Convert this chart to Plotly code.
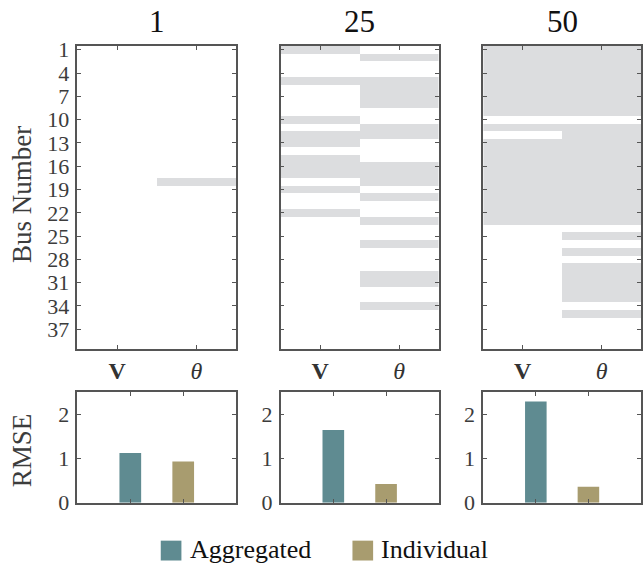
import plotly.graph_objects as go

# ---------------- data ----------------
panel_titles = ["1", "25", "50"]
bus_numbers = list(range(1, 40))
column_labels = ["<b>V</b>", "<i>θ</i>"]
bus_ticks = [1, 4, 7, 10, 13, 16, 19, 22, 25, 28, 31, 34, 37]

# buses flagged (grey) per panel, for V and theta columns
flag_V = [
    [],
    [1, 5, 10, 12, 13, 15, 16, 17, 19, 22],
    [1, 2, 3, 4, 5, 6, 7, 8, 9, 11, 13, 14, 15, 16, 17, 18, 19, 20, 21, 22, 23],
]
flag_T = [
    [18],
    [2, 5, 6, 7, 8, 11, 12, 16, 17, 18, 20, 23, 26, 30, 31, 34],
    [1, 2, 3, 4, 5, 6, 7, 8, 9, 11, 12, 13, 14, 15, 16, 17, 18, 19, 20, 21, 22, 23,
     25, 27, 29, 30, 31, 32, 33, 35],
]

series_names = ["Aggregated", "Individual"]
rmse_aggregated = [1.12, 1.64, 2.28]
rmse_individual = [0.93, 0.42, 0.36]

# ---------------- style ----------------
W, H = 643, 579
COL_AGG = "#5f8b91"
COL_IND = "#a89c6f"
GREY = "#dcdddf"
AX = "#555555"
FONT = "Liberation Serif, Times New Roman, serif"

def fx(x):
    return x / W

def fy(y):
    return 1 - y / H

xdoms = [(77.5, 236.5), (281, 439.5), (484, 642)]
top_y = (353.5, 39.3)
bot_y = (513.3, 398.3)

fig = go.Figure()
layout = {}

for i in range(3):
    n = i + 1
    tn = n          # top axes index
    bn = n + 3      # bottom axes index
    z = []
    for b in bus_numbers:
        z.append([1 if b in flag_V[i] else 0, 1 if b in flag_T[i] else 0])
    fig.add_trace(go.Heatmap(
        z=z, x=[1, 2], y=bus_numbers,
        colorscale=[[0, "white"], [1, GREY]], zmin=0, zmax=1,
        showscale=False, hoverinfo="skip",
        xaxis=f"x{tn}", yaxis=f"y{tn}",
    ))
    fig.add_trace(go.Bar(
        x=[1], y=[rmse_aggregated[i]], width=0.41, marker_color=COL_AGG,
        marker_line_width=0, name=series_names[0], showlegend=False,
        xaxis=f"x{bn}", yaxis=f"y{bn}",
    ))
    fig.add_trace(go.Bar(
        x=[2], y=[rmse_individual[i]], width=0.41, marker_color=COL_IND,
        marker_line_width=0, name=series_names[1], showlegend=False,
        xaxis=f"x{bn}", yaxis=f"y{bn}",
    ))

    common = dict(showline=True, linecolor=AX, linewidth=1.5, mirror="ticks",
                  ticks="inside", ticklen=4, tickwidth=1.2, tickcolor=AX,
                  showgrid=False, zeroline=False, fixedrange=True)
    xd = [fx(xdoms[i][0]), fx(xdoms[i][1])]
    layout[f"xaxis{tn}"] = dict(
        domain=xd, anchor=f"y{tn}", range=[0.5, 2.5],
        tickvals=[1, 2], ticktext=column_labels,
        tickfont=dict(family=FONT, size=24, color="#333333"),
        ticklabelstandoff=0, **common)
    layout[f"yaxis{tn}"] = dict(
        domain=[fy(top_y[0]), fy(top_y[1])], anchor=f"x{tn}",
        range=[39.5, 0.5], tickvals=bus_ticks,
        showticklabels=(i == 0),
        tickfont=dict(family=FONT, size=22, color="#3c3c3c"),
        ticklabelstandoff=2, **common)
    layout[f"xaxis{bn}"] = dict(
        domain=xd, anchor=f"y{bn}", range=[0, 3],
        tickvals=[1, 2], showticklabels=False, **common)
    layout[f"yaxis{bn}"] = dict(
        domain=[fy(bot_y[0]), fy(bot_y[1])], anchor=f"x{bn}",
        range=[0, 2.5], tickvals=[0, 1, 2],
        tickfont=dict(family=FONT, size=22, color="#3c3c3c"),
        ticklabelstandoff=2, **common)

annotations = []
for i in range(3):
    cx = (xdoms[i][0] + xdoms[i][1]) / 2
    annotations.append(dict(
        text=panel_titles[i], x=fx(cx), y=fy(14), xref="paper", yref="paper",
        xanchor="center", yanchor="middle", showarrow=False,
        font=dict(family=FONT, size=31, color="#111111")))

annotations.append(dict(
    text="Bus Number", x=fx(22), y=fy(193), xref="paper", yref="paper",
    xanchor="center", yanchor="middle", textangle=-90, showarrow=False,
    font=dict(family=FONT, size=27, color="#3c3c3c")))
annotations.append(dict(
    text="RMSE", x=fx(22), y=fy(459), xref="paper", yref="paper",
    xanchor="center", yanchor="middle", textangle=-90, showarrow=False,
    font=dict(family=FONT, size=27, color="#3c3c3c")))

# manual legend
shapes = []
legend_items = [(161, series_names[0], COL_AGG), (353, series_names[1], COL_IND)]
for x0, label, col in legend_items:
    shapes.append(dict(type="rect", xref="paper", yref="paper",
                       x0=fx(x0), x1=fx(x0 + 20.7), y0=fy(573.3), y1=fy(552.7),
                       fillcolor=col, line_width=0))
    annotations.append(dict(
        text=label, x=fx(x0 + 27), y=fy(562), xref="paper", yref="paper",
        xanchor="left", yanchor="middle", showarrow=False,
        font=dict(family=FONT, size=26, color="#111111")))

fig.update_layout(
    width=W, height=H, margin=dict(l=0, r=0, t=0, b=0),
    paper_bgcolor="white", plot_bgcolor="white",
    showlegend=False, annotations=annotations, shapes=shapes,
    barmode="overlay", **layout)

fig.write_html("out.html")
